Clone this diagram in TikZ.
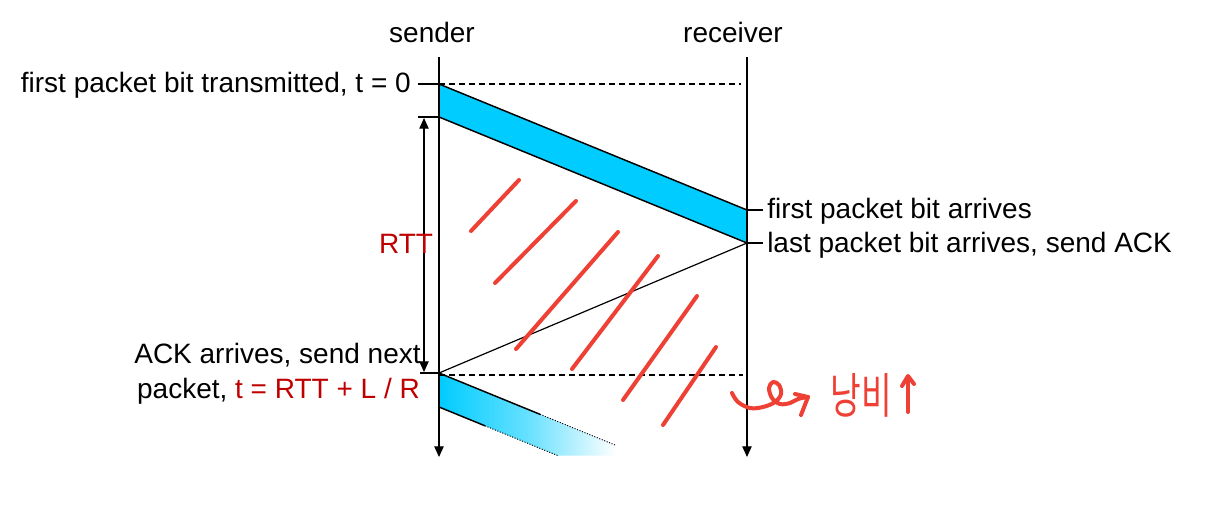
\documentclass[tikz,border=0pt]{standalone}
\usepackage{fontspec}
\setmainfont{Liberation Sans}
\newfontfamily\krfont{Noto Sans CJK KR}
\usetikzlibrary{arrows.meta}
\definecolor{pkt}{RGB}{0,204,255}
\definecolor{darkred}{RGB}{192,0,0}
\definecolor{pen}{RGB}{238,64,52}
\begin{document}
\begin{tikzpicture}[x=0.75pt,y=-0.75pt,
  lbl/.style={inner sep=0pt, font=\fontsize{21}{27}\selectfont},
  life/.style={line width=0.9pt, -{Triangle[width=7pt,length=8pt]}},
  edgeln/.style={line width=1.1pt},
  dline/.style={line width=0.8pt, dash pattern=on 4.5pt off 3pt},
  dotln/.style={line width=0.7pt, dash pattern=on 0.8pt off 1.2pt},
  hand/.style={pen, line width=3pt, line cap=round, line join=round},
]
\useasboundingbox (0,0) rectangle (1221,519);
\fill[white] (0,0) rectangle (1221,519);

% key coordinates
\coordinate (s0) at (439,57);
\coordinate (s1) at (439,457);
\coordinate (r0) at (747,57);
\coordinate (r1) at (747,457);
\coordinate (p1a) at (439,84);
\coordinate (p1b) at (439,117);
\coordinate (p1c) at (747,210);
\coordinate (p1d) at (747,243);
\coordinate (p2a) at (439,373);
\coordinate (p2b) at (439,407);

% first packet
\fill[pkt] (p1a) -- (p1c) -- (p1d) -- (p1b) -- cycle;
\draw[edgeln] (p1a) -- (p1c);
\draw[edgeln] (p1b) -- (p1d);

% second packet (fading)
\coordinate (p2tS) at (540,414.3);
\coordinate (p2tE) at (616,445.4);
\coordinate (p2bS) at (485,425.8);
\coordinate (p2bE) at (558,455.7);
\shade[left color=pkt, right color=white, middle color=pkt!60]
  (p2a) -- (p2tE) -- (616,455.7) -- (p2bE) -- (p2b) -- cycle;
\draw[edgeln] (p2a) -- (p2tS);
\draw[dotln] (p2tS) -- (p2tE);
\draw[edgeln] (p2b) -- (p2bS);
\draw[dotln] (p2bS) -- (p2bE);

% ACK
\draw[line width=0.9pt] (p1d) -- (p2a);

% dashed lines
\coordinate (d1e) at (741,84);
\coordinate (d2s) at (439,375);
\coordinate (d2e) at (743,375);
\draw[dline] (p1a) -- (d1e);
\draw[dline] (d2s) -- (d2e);

% lifelines
\draw[life] (s0) -- (s1);
\draw[life] (r0) -- (r1);

% ticks
\coordinate (k1) at (418,84);
\coordinate (k2) at (418,117);
\coordinate (k3) at (420,373);
\coordinate (k4) at (763,210);
\coordinate (k5) at (763,243);
\draw[line width=0.9pt] (k1) -- (p1a);
\draw[line width=0.9pt] (k2) -- (p1b);
\draw[line width=0.9pt] (k3) -- (p2a);
\draw[line width=0.9pt] (p1c) -- (k4);
\draw[line width=0.9pt] (p1d) -- (k5);

% RTT arrow
\coordinate (rt0) at (424,118);
\coordinate (rt1) at (424,372);
\draw[line width=0.9pt, {Triangle[width=7pt,length=8pt]}-{Triangle[width=7pt,length=8pt]}] (rt0) -- (rt1);

% labels
\node[lbl, anchor=base] (sender) at (432,42) {sender};
\node[lbl, anchor=base] (receiver) at (733,42) {receiver};
\node[lbl, anchor=base east] (t0) at (411,92) {first packet bit transmitted, t = 0};
\node[lbl, anchor=base west] (fa) at (767,218) {first packet bit arrives};
\node[lbl, anchor=base west] (la) at (767,252) {last packet bit arrives, send ACK};
\node[lbl, anchor=base, text=darkred] (rtt) at (406,253) {RTT};
\node[lbl, anchor=base] (ack1) at (277.5,363) {ACK arrives, send next};
\node[lbl, anchor=base] (ack2) at (278.5,398) {packet, \textcolor{darkred}{t = RTT + L / R}};

% handwritten strokes
\draw[hand] (471,231) -- (519,180);
\draw[hand] (495,283) -- (576,201);
\draw[hand] (516,349) -- (618,232);
\draw[hand] (572,369) -- (658,256);
\draw[hand] (623,400) -- (697,296);
\draw[hand] (663,425) -- (716,347);

% curl arrow
\draw[hand] plot[smooth, tension=0.6] coordinates {(732,393) (738,402) (750,408) (763,407) (775,402) (781,394) (779,385) (773,382) (769,388) (772,398) (780,404) (790,403) (798,399) (808,397)};
\draw[hand] (795,394) -- (808,397) -- (801,415);

\node[text=pen, inner sep=0pt, font=\krfont\fontsize{25}{30}\selectfont] (nb) at (861,395) {\scalebox{1}[1.45]{낭비}};
\draw[hand] (908,412) -- (908,377);
\draw[hand] (902,386) -- (908,376) -- (914,384);
\end{tikzpicture}
\end{document}
